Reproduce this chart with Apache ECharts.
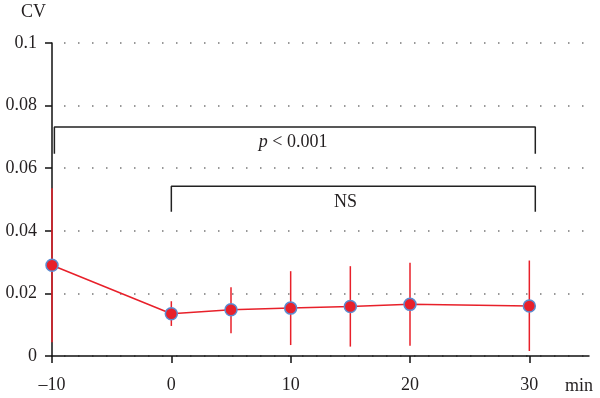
<!DOCTYPE html>
<html>
<head>
<meta charset="utf-8">
<script src="https://cdn.jsdelivr.net/npm/echarts@6/dist/echarts.min.js"></script>
<style>
  html, body { margin: 0; padding: 0; background: #fff; }
  #myChart { width: 600px; height: 398px; }
</style>
</head>
<body>
<div id="myChart"></div>
<script>
// 数据：时间点（分钟）与 CV 均值及误差范围
var minutes = [-10, 0, 5, 10, 15, 20, 30];
var cvMean = [0.029, 0.0135, 0.0148, 0.0153, 0.0158, 0.0165, 0.016];
var cvLow = [0.0044, 0.0096, 0.0073, 0.0035, 0.003, 0.0033, 0.0016];
var cvHigh = [0.0536, 0.0175, 0.022, 0.0271, 0.0287, 0.0298, 0.0305];
var xTicks = [-10, 0, 10, 20, 30];

// 显著性括号
var bracketP = [[-9.8, 0.0646], [-9.8, 0.0732], [30.5, 0.0732], [30.5, 0.0646]];
var bracketNS = [[0, 0.0461], [0, 0.0542], [30.5, 0.0542], [30.5, 0.0461]];
var labelPos = [[10.2, 0.0682], [14.6, 0.0492]];
var labelText = ['p < 0.001', 'NS'];

var serif = '"Liberation Serif", "DejaVu Serif", serif';
var textColor = '#231f20';
var red = '#e8202a';

var meanData = minutes.map(function (m, i) { return [m, cvMean[i]]; });
var barData = minutes.map(function (m, i) { return [m, cvLow[i], cvHigh[i]]; });
var labelData = labelPos.map(function (p, i) { return [p[0], p[1], i]; });

var myChart = echarts.init(document.getElementById('myChart'));
myChart.setOption({
  animation: false,
  grid: { left: 52, right: 11, top: 43, bottom: 42, containLabel: false },
  xAxis: {
    type: 'value',
    min: -10,
    max: 35,
    interval: 10,
    name: 'min',
    nameLocation: 'end',
    nameGap: -24,
    nameTextStyle: {
      fontFamily: serif, fontSize: 18, color: textColor,
      verticalAlign: 'top', padding: [21, 0, 0, 0]
    },
    axisLine: { show: true, onZero: false, lineStyle: { color: '#111', width: 1.5 } },
    axisTick: { show: true, customValues: xTicks, length: 7, lineStyle: { color: '#111', width: 1.5 } },
    axisLabel: {
      customValues: xTicks,
      margin: 20,
      fontFamily: serif, fontSize: 18, color: textColor,
      formatter: function (v) { return String(v).replace('-', '\u2013'); }
    },
    splitLine: { show: false }
  },
  yAxis: {
    type: 'value',
    min: 0,
    max: 0.1,
    interval: 0.02,
    name: 'CV',
    nameLocation: 'end',
    nameGap: 22,
    nameTextStyle: {
      fontFamily: serif, fontSize: 18, color: textColor,
      align: 'right', padding: [0, 6, 0, 0]
    },
    axisLine: { show: true, onZero: false, lineStyle: { color: '#111', width: 1.5 } },
    axisTick: { show: true, length: 7, lineStyle: { color: '#111', width: 1.5 } },
    axisLabel: {
      margin: 15,
      fontFamily: serif, fontSize: 18, color: textColor
    },
    splitLine: {
      show: true,
      lineStyle: { color: '#777', width: 1.5, type: [1.5, 12.5], dashOffset: -12 }
    }
  },
  series: [
    {
      name: 'bracketP',
      type: 'line',
      data: bracketP,
      symbol: 'none',
      silent: true,
      lineStyle: { color: '#222', width: 1.5 },
      z: 1
    },
    {
      name: 'bracketNS',
      type: 'line',
      data: bracketNS,
      symbol: 'none',
      silent: true,
      lineStyle: { color: '#222', width: 1.5 },
      z: 1
    },
    {
      name: 'labels',
      type: 'custom',
      data: labelData,
      silent: true,
      z: 2,
      renderItem: function (params, api) {
        var pt = api.coord([api.value(0), api.value(1)]);
        var idx = api.value(2);
        var txt = idx === 0 ? '{i|p} < 0.001' : labelText[idx];
        return {
          type: 'text',
          x: pt[0],
          y: pt[1],
          style: {
            text: txt,
            fill: textColor,
            fontFamily: serif,
            fontSize: 18,
            align: 'center',
            verticalAlign: 'middle',
            rich: {
              i: { fontFamily: serif, fontSize: 18, fontStyle: 'italic', fill: textColor }
            }
          }
        };
      }
    },
    {
      name: 'errorBar',
      type: 'custom',
      data: barData,
      z: 2,
      renderItem: function (params, api) {
        var x = api.value(0);
        var lo = api.coord([x, api.value(1)]);
        var hi = api.coord([x, api.value(2)]);
        return {
          type: 'line',
          shape: { x1: lo[0], y1: lo[1], x2: hi[0], y2: hi[1] },
          style: { stroke: red, lineWidth: 1.5 }
        };
      }
    },
    {
      name: 'CV',
      type: 'line',
      data: meanData,
      symbol: 'circle',
      symbolSize: 12,
      showSymbol: true,
      z: 3,
      lineStyle: { color: red, width: 1.5 },
      itemStyle: { color: red, borderColor: '#5b8bd0', borderWidth: 1.5 }
    }
  ]
});
</script>
</body>
</html>
